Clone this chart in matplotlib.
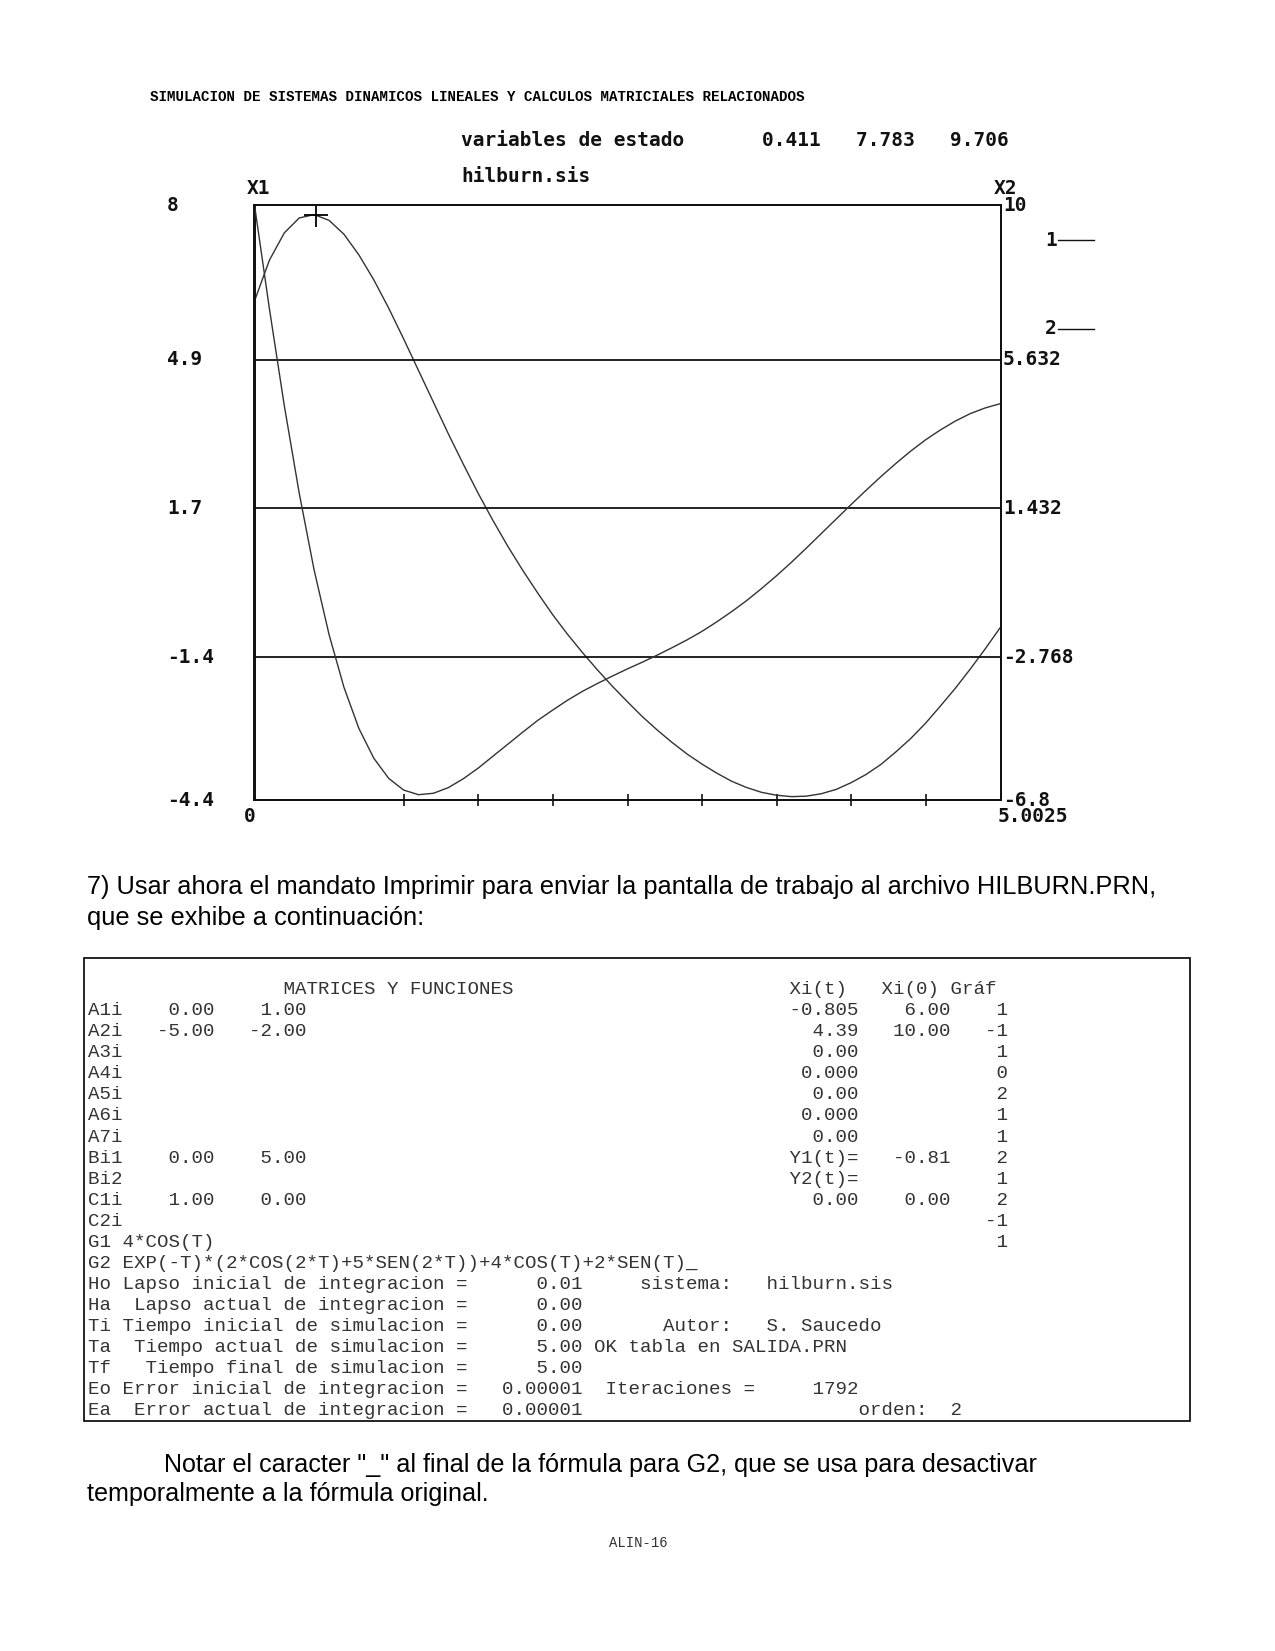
import matplotlib
matplotlib.use("Agg")
import matplotlib.pyplot as plt
from matplotlib.lines import Line2D
from matplotlib.patches import Rectangle
from matplotlib.transforms import blended_transform_factory

t_vals = [0.0, 0.1, 0.2, 0.3, 0.4, 0.5, 0.6, 0.7, 0.8, 0.9,
          1.0, 1.1, 1.2, 1.3, 1.4, 1.5, 1.6, 1.7, 1.8, 1.9,
          2.0, 2.1, 2.2, 2.3, 2.4, 2.5, 2.6, 2.7, 2.8, 2.9,
          3.0, 3.1, 3.2, 3.3, 3.4, 3.5, 3.6, 3.7, 3.8, 3.9,
          4.0, 4.1, 4.2, 4.3, 4.4, 4.5, 4.6, 4.7, 4.8, 4.9,
          5.0, 5.0025]
x1_vals = [6.00, 6.85, 7.42, 7.73, 7.80, 7.68, 7.39, 6.96, 6.44, 5.85,
           5.21, 4.55, 3.89, 3.23, 2.60, 1.99, 1.42, 0.88, 0.38, -0.09,
           -0.54, -0.95, -1.33, -1.69, -2.03, -2.35, -2.66, -2.94, -3.20, -3.44,
           -3.65, -3.84, -4.01, -4.14, -4.24, -4.30, -4.33, -4.32, -4.27, -4.18,
           -4.04, -3.87, -3.66, -3.40, -3.12, -2.80, -2.44, -2.07, -1.67, -1.25,
           -0.81, -0.805]
x2_vals = [10.00, 7.07, 4.33, 1.86, -0.31, -2.13, -3.62, -4.78, -5.62, -6.19,
           -6.52, -6.65, -6.61, -6.45, -6.20, -5.90, -5.56, -5.22, -4.88, -4.55,
           -4.26, -3.98, -3.73, -3.51, -3.30, -3.10, -2.91, -2.71, -2.50, -2.28,
           -2.04, -1.77, -1.48, -1.17, -0.83, -0.47, -0.09, 0.31, 0.72, 1.13,
           1.54, 1.94, 2.33, 2.70, 3.05, 3.37, 3.65, 3.90, 4.11, 4.27,
           4.39, 4.39]

t_end = 5.0025
x1_lim = (-4.4, 8.0)
x2_lim = (-6.8, 10.0)
left_labels = ["8", "4.9", "1.7", "-1.4", "-4.4"]
right_vals = [10.0, 5.632, 1.432, -2.768, -6.8]
right_labels = ["10", "5.632", "1.432", "-2.768", "-6.8"]
grid_vals = [5.632, 1.432, -2.768]
tick_steps = [2, 3, 4, 5, 6, 7, 8, 9]
cursor = (0.411, 7.783)
readout = "0.411   7.783   9.706"

table_rows = [
    [(17, "MATRICES Y FUNCIONES"), (61, "Xi(t)"), (69, "Xi(0)"), (75, "Gráf")],
    [(0, "A1i"), (7, "0.00"), (15, "1.00"), (61, "-0.805"), (71, "6.00"), (79, "1")],
    [(0, "A2i"), (6, "-5.00"), (14, "-2.00"), (63, "4.39"), (70, "10.00"), (78, "-1")],
    [(0, "A3i"), (63, "0.00"), (79, "1")],
    [(0, "A4i"), (62, "0.000"), (79, "0")],
    [(0, "A5i"), (63, "0.00"), (79, "2")],
    [(0, "A6i"), (62, "0.000"), (79, "1")],
    [(0, "A7i"), (63, "0.00"), (79, "1")],
    [(0, "Bi1"), (7, "0.00"), (15, "5.00"), (61, "Y1(t)="), (70, "-0.81"), (79, "2")],
    [(0, "Bi2"), (61, "Y2(t)="), (79, "1")],
    [(0, "C1i"), (7, "1.00"), (15, "0.00"), (63, "0.00"), (71, "0.00"), (79, "2")],
    [(0, "C2i"), (78, "-1")],
    [(0, "G1 4*COS(T)"), (79, "1")],
    [(0, "G2 EXP(-T)*(2*COS(2*T)+5*SEN(2*T))+4*COS(T)+2*SEN(T)_")],
    [(0, "Ho Lapso inicial de integracion ="), (39, "0.01"), (48, "sistema:"), (59, "hilburn.sis")],
    [(0, "Ha  Lapso actual de integracion ="), (39, "0.00")],
    [(0, "Ti Tiempo inicial de simulacion ="), (39, "0.00"), (50, "Autor:"), (59, "S. Saucedo")],
    [(0, "Ta  Tiempo actual de simulacion ="), (39, "5.00 OK tabla en SALIDA.PRN")],
    [(0, "Tf   Tiempo final de simulacion ="), (39, "5.00")],
    [(0, "Eo Error inicial de integracion ="), (36, "0.00001"), (45, "Iteraciones ="), (63, "1792")],
    [(0, "Ea  Error actual de integracion ="), (36, "0.00001"), (67, "orden:"), (75, "2")],
]

W, H = 1275, 1651


def fx(x):
  return x / W


def fy(y):
  return 1 - y / H


def rowtext(parts):
  s = ""
  for col, txt in parts:
    s = s.ljust(col) + txt
  return s


fig = plt.figure(figsize=(W / 100, H / 100), dpi=100)
fig.patch.set_facecolor("white")
rend = fig.canvas.get_renderer()


def fit(txt, width):
  w = txt.get_window_extent(rend).width
  txt.set_fontsize(txt.get_fontsize() * width / w)


# header line
hd = fig.text(fx(150), fy(97), "SIMULACION DE SISTEMAS DINAMICOS LINEALES Y CALCULOS MATRICIALES RELACIONADOS",
              family="Liberation Mono", weight="bold", fontsize=10, ha="left", va="center")
fit(hd, 654)

# ---- the simulator screen ----
dos = dict(family="DejaVu Sans Mono", weight="bold", fontsize=14, color="#111111")

ax = fig.add_axes([fx(254.5), fy(800), (1000.5 - 254.5) / W, (800 - 205) / H])
ax2 = ax.twinx()
ax.set_xlim(0, t_end)
ax.set_ylim(*x1_lim)
ax2.set_ylim(*x2_lim)

for g in grid_vals:
  ax2.axhline(g, color="#111111", lw=1.3, zorder=1)

ax.plot(t_vals, x1_vals, color="#333333", lw=1.0)
ax2.plot(t_vals, x2_vals, color="#333333", lw=1.0)
ax.plot([cursor[0]], [cursor[1]], marker="+", ms=17, mew=1.3, color="black")

for a in (ax, ax2):
  for sp in a.spines.values():
    sp.set_linewidth(1.4)
    sp.set_color("#111111")
  a.set_yticks([])
ax.set_xticks([t_end * k / 10 for k in tick_steps])
ax.tick_params(axis="x", direction="inout", length=9, width=1.2, labelbottom=False, color="#111111")

trl = blended_transform_factory(fig.transFigure, ax2.transData)
for lab, v in zip(left_labels, right_vals):
  fig.text(fx(167), v, lab, transform=trl, ha="left", va="center", **dos)
for lab, v in zip(right_labels, right_vals):
  fig.text(fx(1003), v, lab, transform=trl, ha="left", va="center", **dos)

fig.text(fx(258), fy(188), "X1", ha="center", va="center", **dos)
fig.text(fx(1005), fy(189), "X2", ha="center", va="center", **dos)
fig.text(fx(250), fy(816), "0", ha="center", va="center", **dos)
fig.text(fx(998), fy(816), "5.0025", ha="left", va="center", **dos)

fig.text(fx(461), fy(140), "variables de estado", ha="left", va="center", **dos)
fig.text(fx(762), fy(140), readout, ha="left", va="center", **dos)
fig.text(fx(461), fy(176), "hilburn.sis", ha="left", va="center", **dos)

# legend
for lab, yy in (("1", 240), ("2", 329)):
  fig.text(fx(1051), fy(yy), lab, ha="center", va="center", **dos)
  fig.add_artist(Line2D([fx(1058), fx(1094)], [fy(yy), fy(yy)], transform=fig.transFigure,
                        color="#111111", lw=1.0))

# ---- document text ----
sans = dict(family="Liberation Sans", fontsize=17, color="black", ha="left", va="center")
p1 = fig.text(fx(87), fy(887), "7) Usar ahora el mandato Imprimir para enviar la pantalla de trabajo al archivo HILBURN.PRN,", **sans)
fit(p1, 1066)
p2 = fig.text(fx(87), fy(918), "que se exhibe a continuación:", **sans)
p2.set_fontsize(p1.get_fontsize())

# table frame + rows
fig.add_artist(Rectangle((fx(84), fy(1421)), (1190 - 84) / W, (1421 - 958) / H, transform=fig.transFigure,
                         fill=False, lw=1.2, edgecolor="black"))
cw = 11.48
for i, parts in enumerate(table_rows):
  fig.text(fx(88.4), fy(989.6 + 21.06 * i), rowtext(parts), family="Liberation Mono",
           fontsize=cw / 0.6 * 0.72, color="#333333", ha="left", va="center")

n1 = fig.text(fx(164), fy(1465), "Notar el caracter \"_\" al final de la fórmula para G2, que se usa para desactivar", **sans)
fit(n1, 873)
n2 = fig.text(fx(87), fy(1494), "temporalmente a la fórmula original.", **sans)
n2.set_fontsize(n1.get_fontsize())

fig.text(fx(638), fy(1543), "ALIN-16", family="Liberation Mono", fontsize=10, color="#333333",
         ha="center", va="center")

fig.savefig("out.png", dpi=100)
